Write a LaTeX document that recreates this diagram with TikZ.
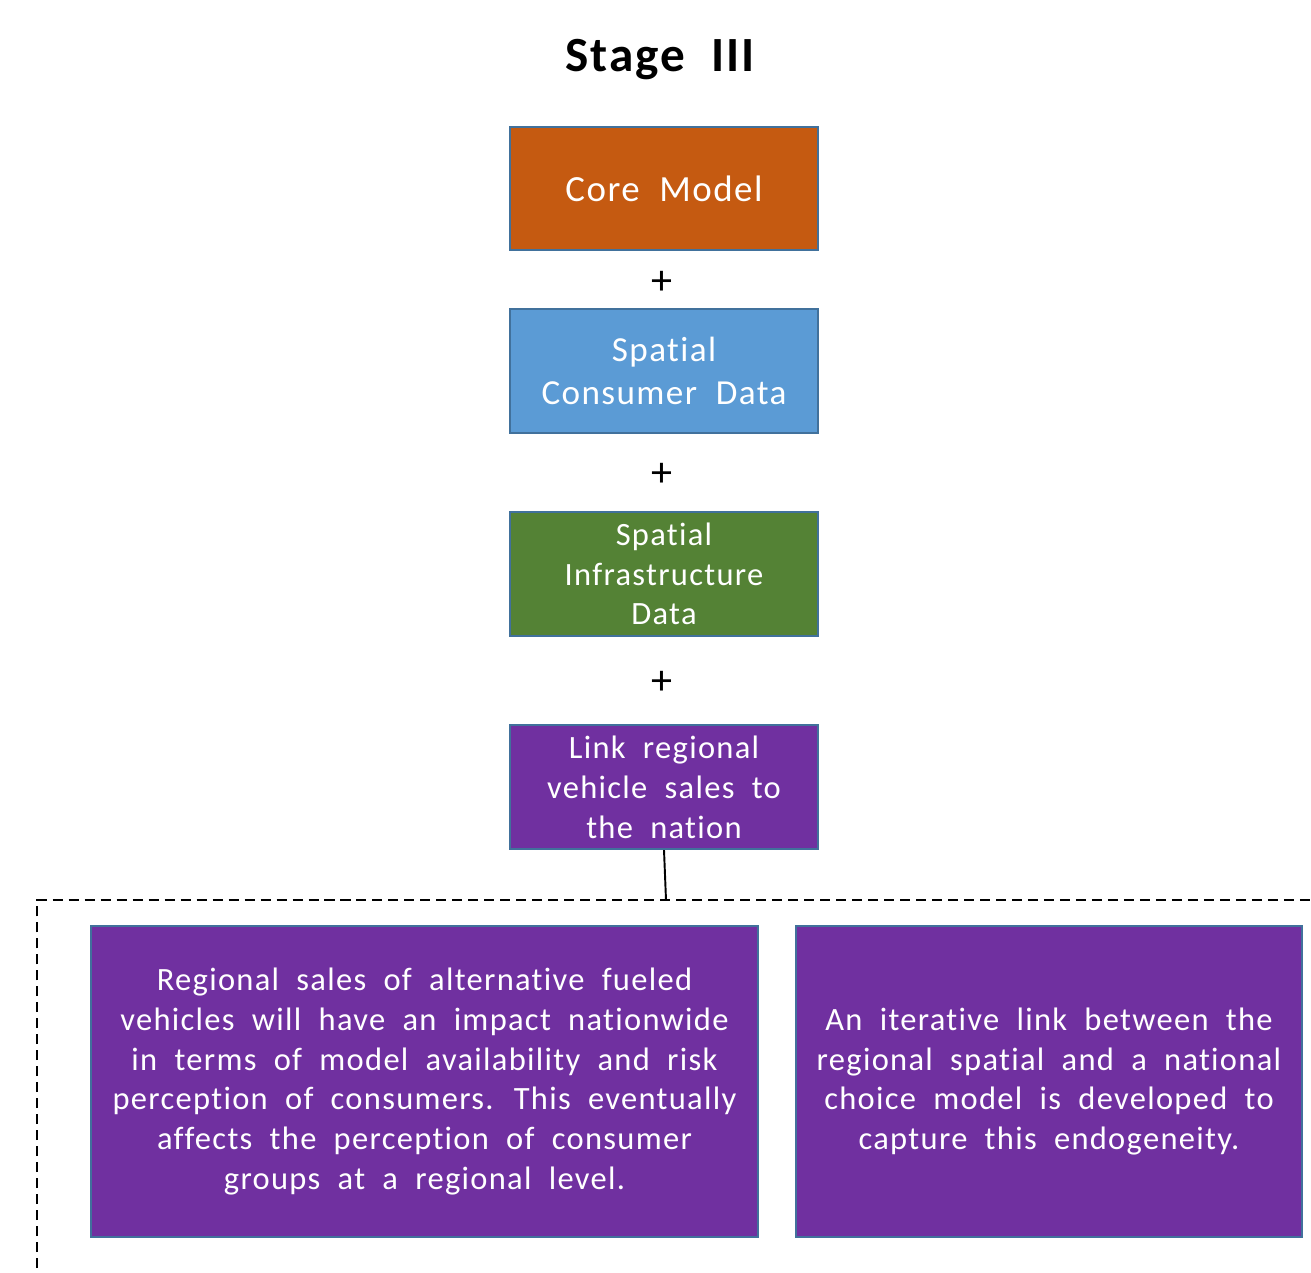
\documentclass[tikz,border=0pt]{standalone}
\usepackage{fontspec}
\setmainfont[LetterSpace=4, WordSpace=2, Ligatures=NoCommon]{Carlito}
\usepackage{xcolor}

\definecolor{coreorange}{HTML}{C55A11}
\definecolor{consblue}{HTML}{5B9BD5}
\definecolor{infragreen}{HTML}{548235}
\definecolor{linkpurple}{HTML}{7030A0}
\definecolor{edgeblue}{HTML}{41719C}

\tikzset{
	stagebox/.style={draw=edgeblue, line width=1.2pt, text=white, align=center, inner sep=0pt},
	plussign/.style={font=\fontsize{24}{28}\selectfont},
}

\begin{document}
\begin{tikzpicture} [x=0.02cm, y=-0.02cm]
		\useasboundingbox (0, 0) rectangle (1311, 1272);
		\clip (0, 0) rectangle (1311, 1272);
		\node (title) at (660, 60) {\fontsize{28}{32}\selectfont\bfseries Stage III};
		% top column
		\node[stagebox, fill=coreorange, minimum width=6.16cm, minimum height=2.46cm,
			font=\fontsize{21}{25}\selectfont] (core) at (664, 188.5) {Core Model};
			\node[plussign] (plus1) at (662, 283) {+};
		\node[stagebox, fill=consblue, minimum width=6.16cm, minimum height=2.48cm,
			font=\fontsize{20}{24}\selectfont] (consumer) at (664, 371) {Spatial\\Consumer Data};
			\node[plussign] (plus2) at (662, 475) {+};
		\node[stagebox, fill=infragreen, minimum width=6.16cm, minimum height=2.48cm,
			font=\fontsize{18.5}{22.4}\selectfont] (infra) at (664, 574) {Spatial\\Infrastructure\\Data};
			\node[plussign] (plus3) at (662, 683) {+};
		\node[stagebox, fill=linkpurple, minimum width=6.16cm, minimum height=2.48cm,
			font=\fontsize{18.5}{22.7}\selectfont] (link) at (664, 787) {Link regional\\vehicle sales to\\the nation};
		% dashed frame
		\coordinate (frametop) at (666, 900);
		\draw [line width=1.1pt, dash pattern=on 5.7pt off 3.4pt] (37, 1300) -- (37, 900) -- (1340, 900);
		\draw [line width=1.1pt] (link.south) -- (frametop);
		% bottom boxes
		\node[stagebox, fill=linkpurple, minimum width=13.34cm, minimum height=6.22cm,
			font=\fontsize{18.5}{22.7}\selectfont] (regional) at (424.5, 1081.5)
			{Regional sales of alternative fueled\\vehicles will have an impact nationwide\\in terms of model availability and risk\\perception of consumers. This eventually\\affects the perception of consumer\\groups at a regional level.};
		\node[stagebox, fill=linkpurple, minimum width=10.12cm, minimum height=6.22cm,
			font=\fontsize{18.5}{22.7}\selectfont] (iterative) at (1049, 1081.5)
			{An iterative link between the\\regional spatial and a national\\choice model is developed to\\capture this endogeneity.};
	\end{tikzpicture}
\end{document}
